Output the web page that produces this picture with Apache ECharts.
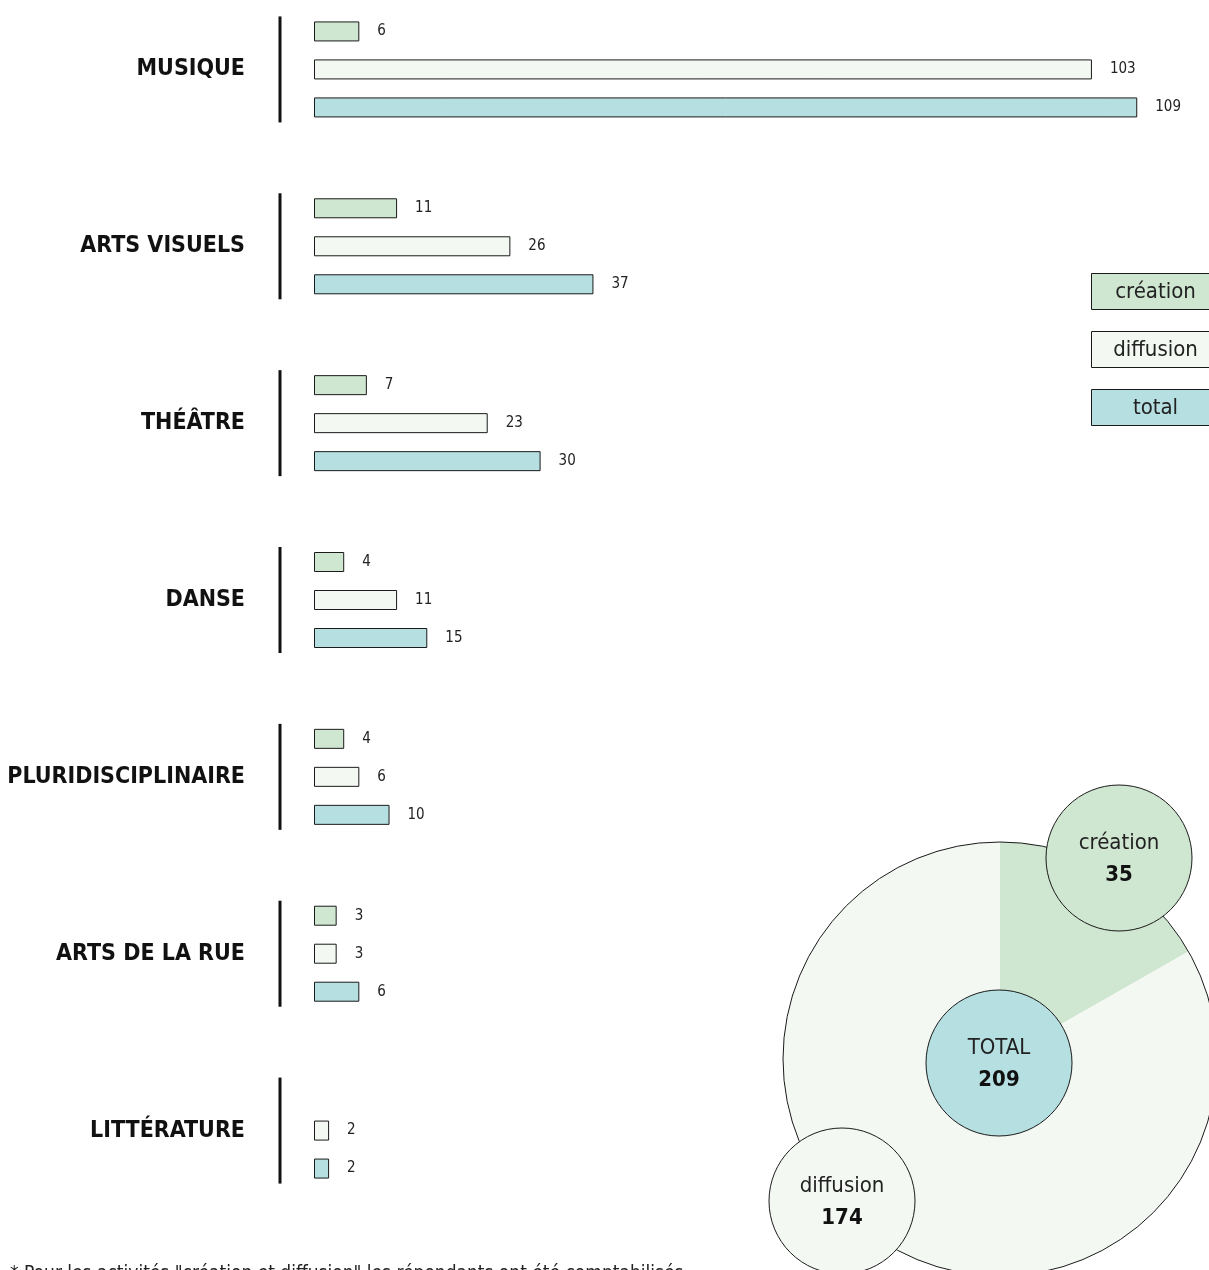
<!DOCTYPE html>
<html>
<head>
<meta charset="utf-8">
<script src="https://cdn.jsdelivr.net/npm/echarts@6/dist/echarts.min.js"></script>
<style>
  html, body { margin: 0; padding: 0; background: #fff; }
  #chart { width: 1209px; height: 1270px; }
</style>
</head>
<body>
<div id="chart"></div>
<script>
// données
const categories = ['MUSIQUE', 'ARTS VISUELS', 'THÉÂTRE', 'DANSE', 'PLURIDISCIPLINAIRE', 'ARTS DE LA RUE', 'LITTÉRATURE']
const creation = [6, 11, 7, 4, 4, 3, null]
const diffusion = [103, 26, 23, 11, 6, 3, 2]
const total = [109, 37, 30, 15, 10, 6, 2]
const seriesNames = ['création', 'diffusion', 'total']
const colors = ['#cfe6d0', '#f3f8f2', '#b5dfe1']

const sum = arr => arr.reduce((a, b) => a + (b || 0), 0)
const totalCreation = sum(creation)
const totalDiffusion = sum(diffusion)
const totalAll = sum(total)

const FONT = "'DejaVu Sans Condensed', 'Liberation Sans Narrow', sans-serif"
const BORDER = '#1a1a1a'

const chart = echarts.init(document.getElementById('chart'))

function barSeries(name, data, color) {
  return {
    name: name,
    type: 'bar',
    data: data,
    barWidth: 20,
    barGap: '90%',
    itemStyle: { color: color, borderColor: BORDER, borderWidth: 1 },
    label: {
      show: true,
      position: 'right',
      distance: 18,
      fontFamily: FONT,
      fontSize: 15,
      color: '#222'
    }
  }
}

// petit cercle avec libellé au centre
function bubble(center, radius, name, value, color) {
  return {
    type: 'pie',
    silent: true,
    center: center,
    radius: radius,
    data: [{ name: name, value: value }],
    itemStyle: { color: color, borderColor: BORDER, borderWidth: 1 },
    label: {
      show: true,
      position: 'center',
      formatter: '{n|{b}}\n{v|{c}}',
      rich: {
        n: { fontFamily: FONT, fontSize: 22, color: '#222', lineHeight: 34 },
        v: { fontFamily: FONT, fontSize: 22, fontWeight: 'bold', color: '#111', lineHeight: 30 }
      }
    },
    labelLine: { show: false }
  }
}

const legendGraphics = seriesNames.map((name, i) => ({
  type: 'group',
  left: 1091,
  top: 273 + i * 58,
  children: [
    {
      type: 'rect',
      shape: { x: 0, y: 0, width: 130, height: 36 },
      style: { fill: colors[i], stroke: BORDER, lineWidth: 1 }
    },
    {
      type: 'text',
      x: 64,
      y: 19,
      style: {
        text: name,
        fontFamily: FONT,
        fontSize: 22,
        fill: '#222',
        align: 'center',
        verticalAlign: 'middle'
      }
    }
  ]
}))

const option = {
  animation: false,
  grid: { left: 314, right: 0, top: -19, height: 1238, outerBoundsMode: 'none', containLabel: false },
  xAxis: {
    type: 'value',
    min: 0,
    max: 118.5,
    show: false
  },
  yAxis: {
    type: 'category',
    data: categories,
    inverse: true,
    axisLine: { show: false },
    axisTick: { show: false },
    axisLabel: {
      margin: 69,
      padding: [4, 0, 0, 0],
      fontFamily: FONT,
      fontSize: 23,
      fontWeight: 'bold',
      color: '#111'
    }
  },
  series: [
    barSeries(seriesNames[0], creation, colors[0]),
    barSeries(seriesNames[1], diffusion, colors[1]),
    barSeries(seriesNames[2], total, colors[2]),
    {
      // traits verticaux à gauche de chaque groupe
      type: 'custom',
      silent: true,
      data: categories.map((c, i) => [0, i]),
      renderItem: function (params, api) {
        const p = api.coord([0, api.value(1)])
        return {
          type: 'line',
          shape: { x1: p[0] - 34, y1: p[1] - 53, x2: p[0] - 34, y2: p[1] + 53 },
          style: { stroke: '#111', lineWidth: 3 }
        }
      }
    },
    {
      type: 'pie',
      silent: true,
      center: [1000, 1059],
      radius: 217,
      startAngle: 90,
      clockwise: true,
      data: [
        { name: seriesNames[0], value: totalCreation, itemStyle: { color: colors[0] } },
        { name: seriesNames[1], value: totalDiffusion, itemStyle: { color: colors[1] } }
      ],
      itemStyle: { borderWidth: 0 },
      label: { show: false },
      labelLine: { show: false }
    },
    {
      // contour du grand cercle
      type: 'pie',
      silent: true,
      center: [1000, 1059],
      radius: 217,
      data: [{ name: 'contour', value: totalAll }],
      itemStyle: { color: 'rgba(0,0,0,0)', borderColor: BORDER, borderWidth: 1 },
      label: { show: false },
      labelLine: { show: false }
    },
    bubble([999, 1063], 73, 'TOTAL', totalAll, colors[2]),
    bubble([1119, 858], 73, seriesNames[0], totalCreation, colors[0]),
    bubble([842, 1201], 73, seriesNames[1], totalDiffusion, colors[1])
  ],
  graphic: [
    ...legendGraphics,
    {
      type: 'text',
      left: 10,
      top: 1265,
      style: {
        text: '* Pour les activités "création et diffusion" les répondants ont été comptabilisés',
        fontFamily: FONT,
        fontSize: 19,
        fill: '#222'
      }
    }
  ]
}

chart.setOption(option)
</script>
</body>
</html>
